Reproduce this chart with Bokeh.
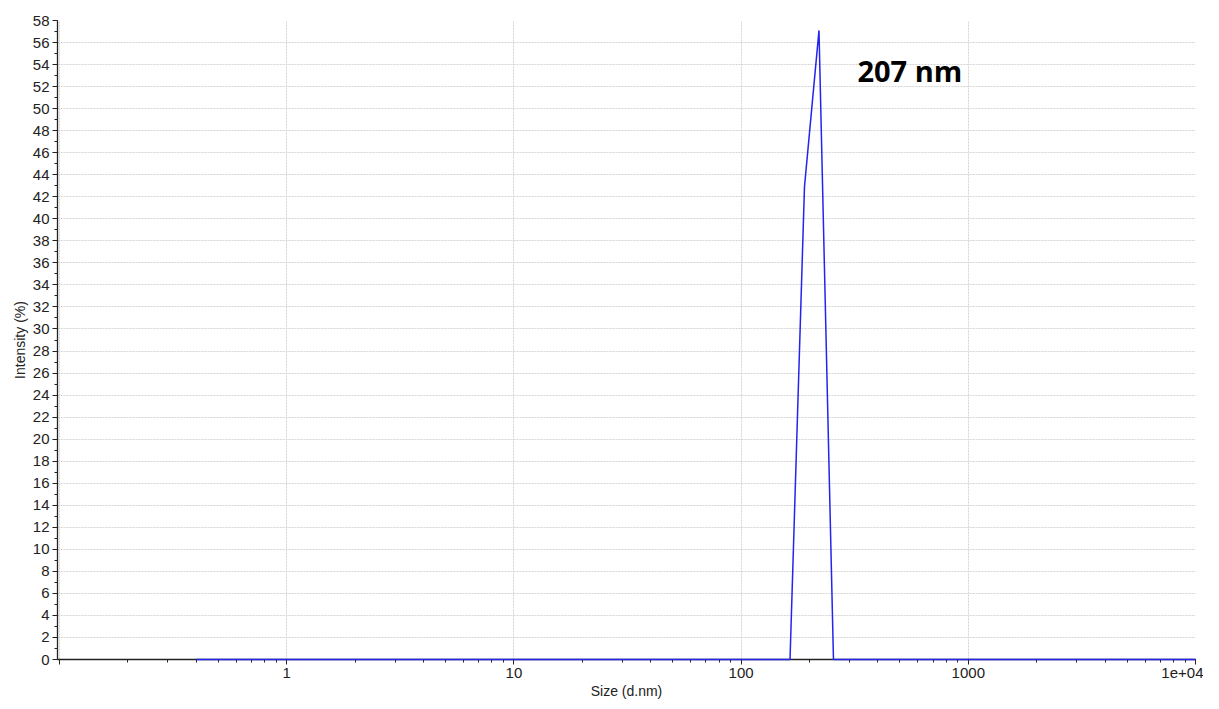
from bokeh.plotting import figure
from bokeh.models import Range1d, SingleIntervalTicker, LogTicker, Label
from bokeh.embed import file_html
from bokeh.resources import INLINE

# Size distribution by intensity (DLS)
sizes = [0.4, 164.2, 190.1, 220.2, 255.0, 10000]
intensity = [0, 0, 42.9, 57.1, 0, 0]
x_tick_labels = {0.1: "", 1: "1", 10: "10", 100: "100", 1000: "1000", 10000: "1e+04"}
peak_label = "207 nm"

TICK_FONT = "Liberation Sans"

p = figure(width=1203, height=701, x_axis_type="log",
           x_range=Range1d(0.098, 10000), y_range=Range1d(0, 58),
           output_backend="svg", toolbar_location=None,
           min_border_left=57, min_border_right=8, min_border_top=20, min_border_bottom=41)
p.outline_line_color = None
p.background_fill_color = "white"

p.line(sizes, intensity, line_color="#2424ee", line_width=1.5, level="overlay")

# axes
p.xaxis.ticker = LogTicker(num_minor_ticks=10)
p.xaxis.major_label_overrides = x_tick_labels
p.yaxis.ticker = SingleIntervalTicker(interval=2, num_minor_ticks=2)
for ax in (p.xaxis[0], p.yaxis[0]):
    ax.axis_line_color = "#222222"
    ax.axis_line_width = 1.3
    ax.major_tick_line_color = "#222222"
    ax.minor_tick_line_color = "#222222"
    ax.major_tick_out = 5
    ax.major_tick_in = 0
    ax.minor_tick_out = 3
    ax.minor_tick_in = 0
    ax.major_label_text_font = TICK_FONT
    ax.major_label_text_font_size = "15px"
    ax.major_label_text_color = "#222222"
    ax.axis_label_text_font = TICK_FONT
    ax.axis_label_text_font_size = "14px"
    ax.axis_label_text_font_style = "normal"
    ax.axis_label_text_color = "#222222"
    ax.major_label_standoff = 3
    ax.axis_label_standoff = 2
p.xaxis.axis_label = "Size (d.nm)"
p.yaxis.axis_label = "Intensity (%)"

# grids
p.xgrid.grid_line_color = "#d4d4d4"
p.xgrid.grid_line_dash = "2 1"
p.ygrid.grid_line_color = "#d4d4d4"
p.ygrid.grid_line_dash = "2 1"

p.add_layout(Label(x=325, y=53.5, text=peak_label, text_font="Open Sans",
                   text_font_style="bold", text_font_size="29px",
                   text_color="black", text_baseline="alphabetic"))

open("out.html", "w").write(file_html(p, INLINE))
